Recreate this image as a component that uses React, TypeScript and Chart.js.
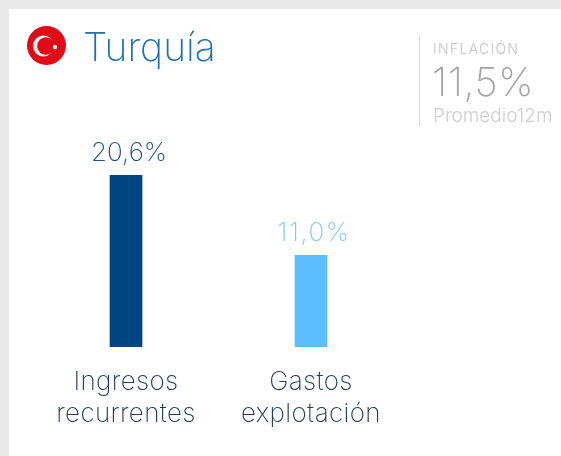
import React, { useEffect, useRef } from "react";
import { Chart, registerables } from "chart.js";

Chart.register(...registerables);

const categories = [["Ingresos", "recurrentes"], ["Gastos", "explotación"]];
const values = [20.6, 11.0];
const valueLabels = ["20,6%", "11,0%"];
const barColors = ["#004481", "#5BBEFF"];
const labelColors = ["#1F4E84", "#7CCBFF"];
const FONT = "Inter";

const spacingPlugin = {
  id: "spacing",
  beforeDraw(chart: any) {
    chart.ctx.letterSpacing = "0.35px";
  },
};

const valueLabelPlugin = {
  id: "valueLabels",
  afterDatasetsDraw(chart: any) {
    const { ctx } = chart;
    const meta = chart.getDatasetMeta(0);
    ctx.save();
    ctx.textAlign = "center";
    ctx.textBaseline = "alphabetic";
    ctx.font = `200 26px ${FONT}`;
    meta.data.forEach((bar: any, i: number) => {
      const label = valueLabels[i];
      ctx.letterSpacing = "0px";
      const w = ctx.measureText(label).width;
      ctx.letterSpacing = `${Math.max(0, (73 - w) / label.length)}px`;
      ctx.fillStyle = labelColors[i];
      ctx.fillText(label, bar.x + 3, bar.y - 14);
    });
    ctx.restore();
  },
};

export default function App() {
  const ref = useRef<HTMLCanvasElement>(null);
  useEffect(() => {
    const chart = new Chart(ref.current!, {
      type: "bar",
      data: {
        labels: categories,
        datasets: [{ data: values, backgroundColor: barColors, barThickness: 32, borderWidth: 0 }],
      },
      options: {
        animation: false,
        responsive: false,
        layout: { padding: { left: 33.5, right: 157.5, top: 147, bottom: 0 } },
        plugins: { legend: { display: false }, tooltip: { enabled: false } },
        scales: {
          y: { display: false, min: 0, max: 24 },
          x: {
            grid: { display: false, drawTicks: false },
            border: { display: false },
            afterFit(axis: any) { axis.height = 109; },
            ticks: {
              color: "#1F3A5F",
              font: { family: FONT, size: 26, weight: 200, lineHeight: 1.23 },
              padding: 19,
              maxRotation: 0,
              autoSkip: false,
            },
          },
        },
      },
      plugins: [spacingPlugin, valueLabelPlugin],
    } as any);
    return () => chart.destroy();
  }, []);

  const text = (style: React.CSSProperties, s: string) => (
    <div style={{ position: "absolute", whiteSpace: "nowrap", fontFamily: FONT, fontWeight: 200, lineHeight: 1, ...style }}>{s}</div>
  );

  return (
    <div style={{ position: "fixed", left: 0, top: 0, width: 561, height: 456, background: "#E8E8E8", overflow: "hidden" }}>
      <div style={{ position: "absolute", left: 9, top: 9, width: 552, height: 447, background: "#FFFFFF" }} />
      <canvas ref={ref} width={561} height={456} style={{ position: "absolute", left: 0, top: 0 }} />
      <svg width={40} height={40} viewBox="0 0 40 40" style={{ position: "absolute", left: 27, top: 26 }}>
        <circle cx={19.5} cy={19.5} r={19.5} fill="#E30A17" />
        <circle cx={16.5} cy={20} r={10.5} fill="#FFE9EA" />
        <circle cx={19} cy={20} r={8.8} fill="#E30A17" />
        <circle cx={28} cy={21} r={2.2} fill="#FFE9EA" />
      </svg>
      {text({ left: 83, top: 27, fontSize: 39, color: "#1F6FB0" }, "Turquía")}
      <div style={{ position: "absolute", left: 419, top: 35, width: 1, height: 91, background: "#D9D9D9" }} />
      {text({ left: 433, top: 42, fontSize: 14, fontWeight: 300, color: "#C4C4C4", letterSpacing: 1.3 }, "INFLACIÓN")}
      {text({ left: 432, top: 62, fontSize: 40, color: "#A3A3A3", letterSpacing: 0.5 }, "11,5%")}
      {text({ left: 433, top: 106, fontSize: 19, fontWeight: 300, color: "#CFCFCF" }, "Promedio12m")}
    </div>
  );
}
